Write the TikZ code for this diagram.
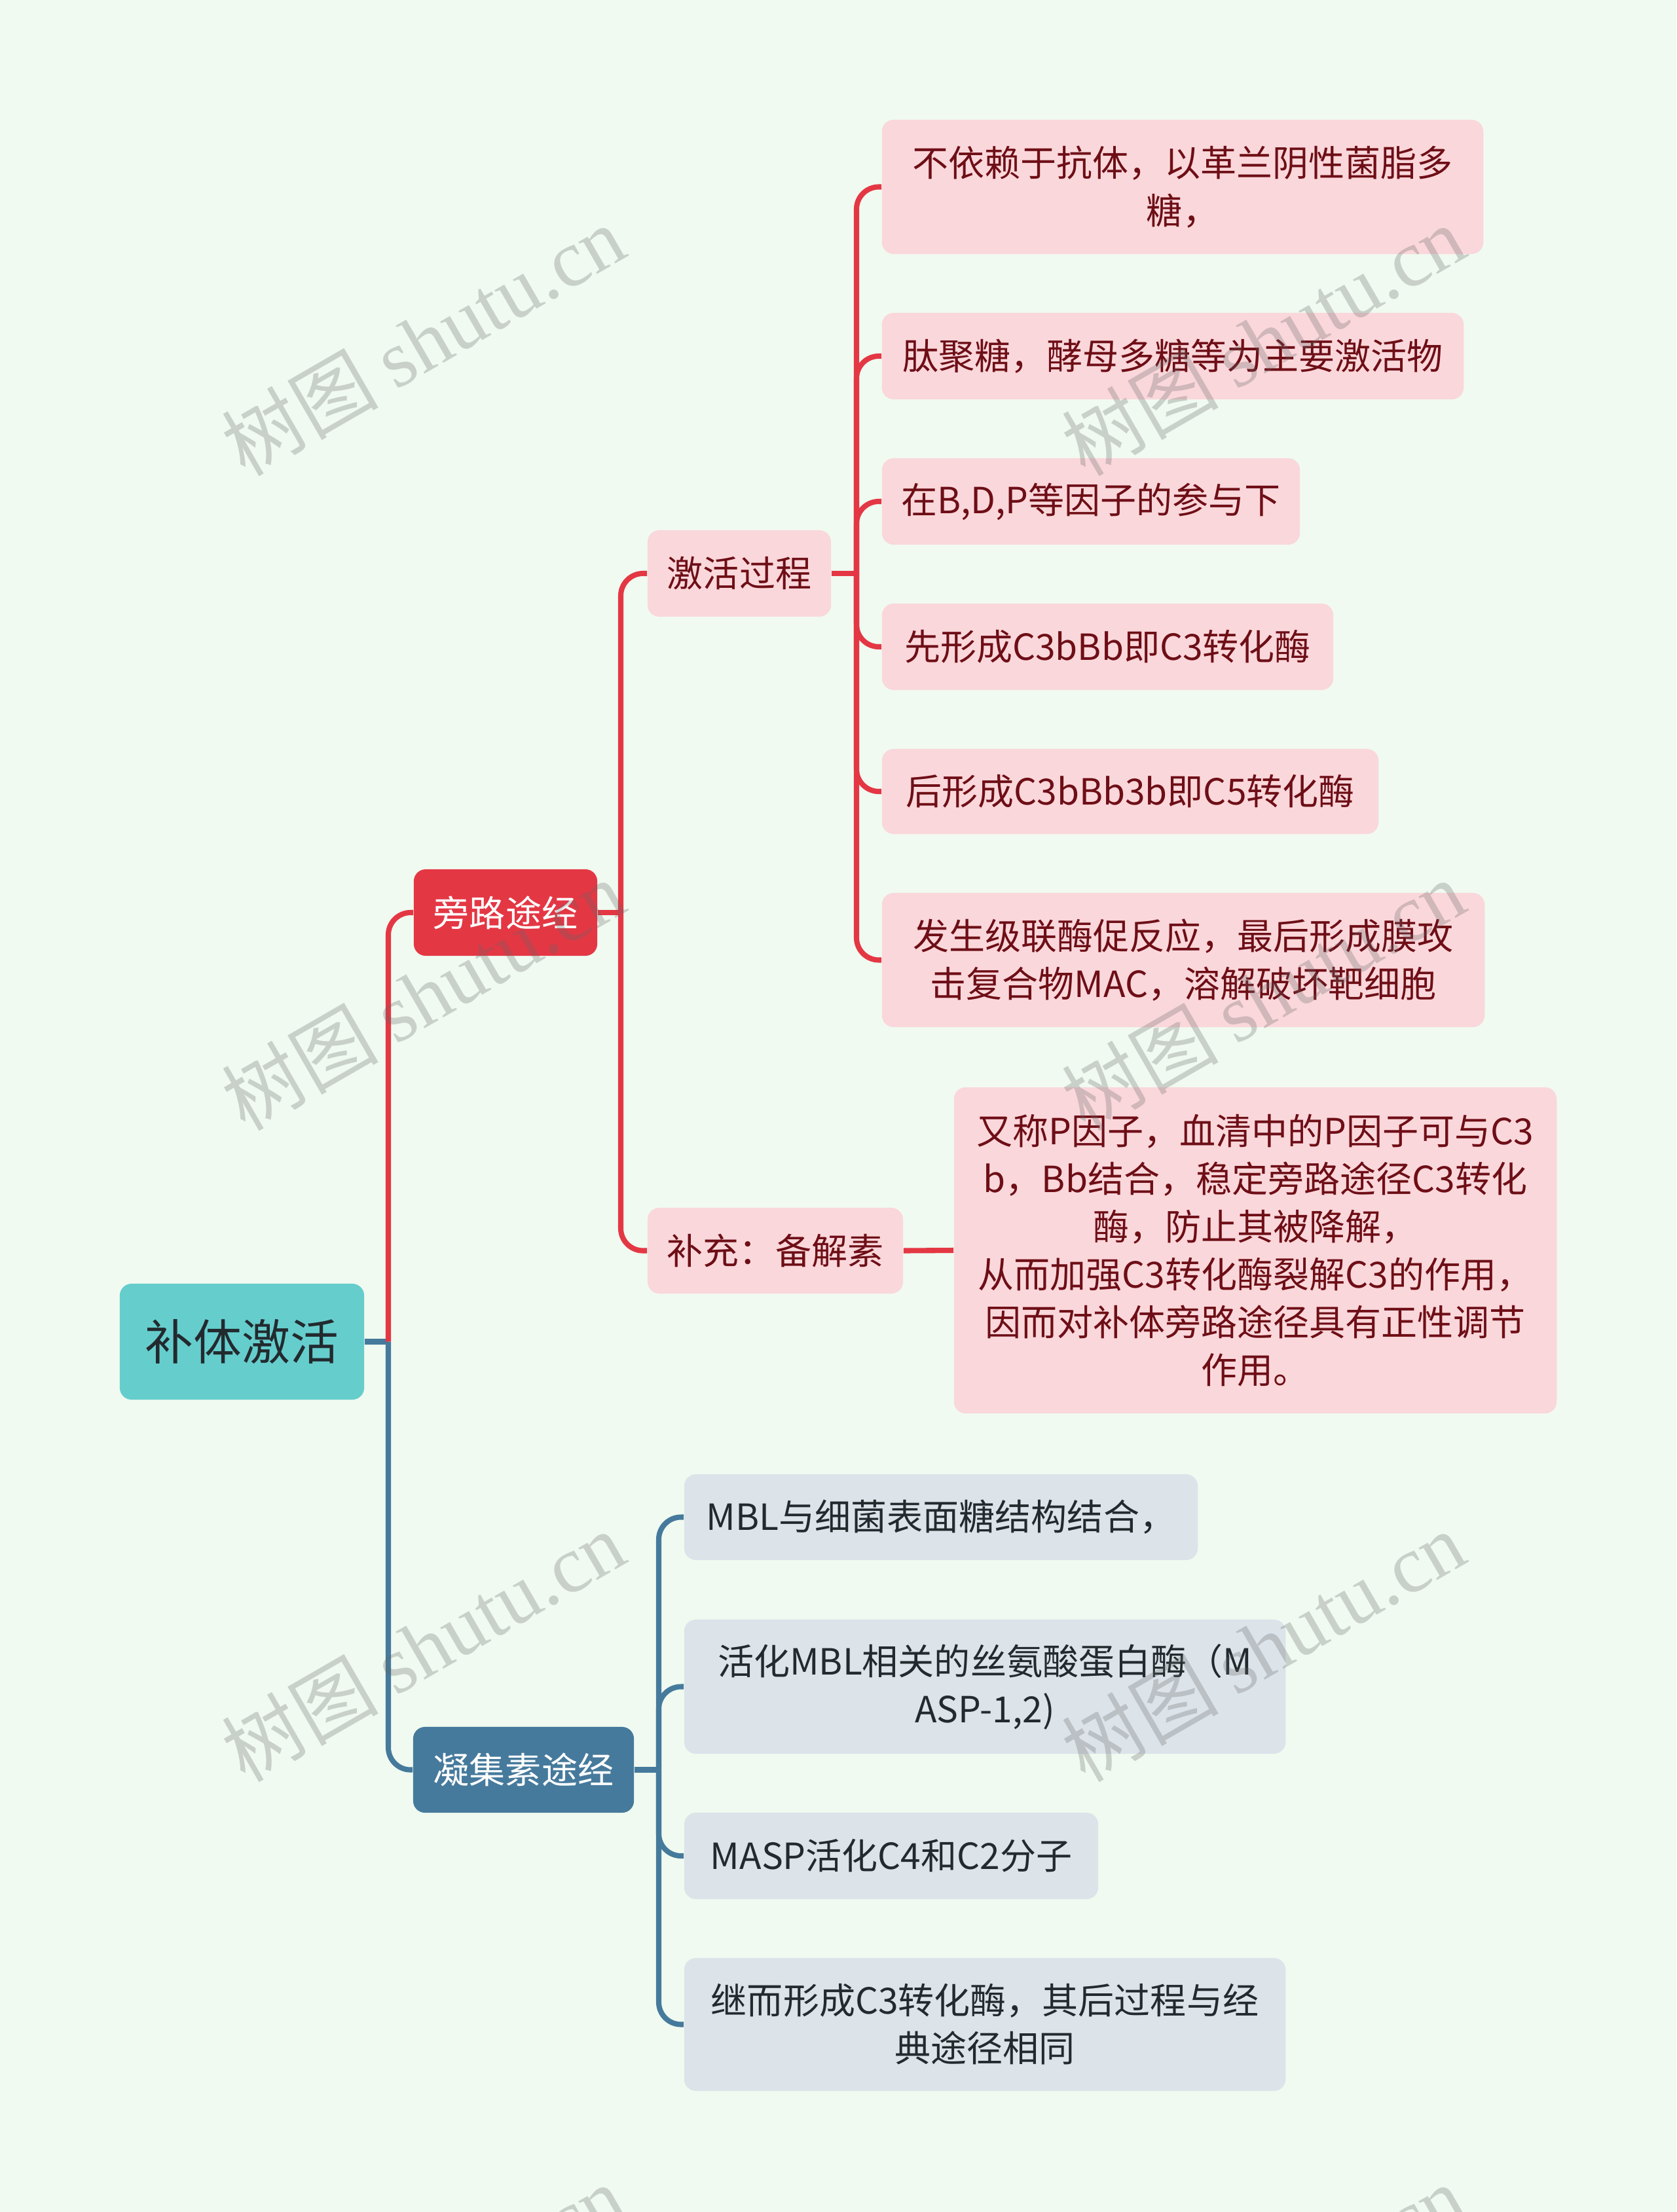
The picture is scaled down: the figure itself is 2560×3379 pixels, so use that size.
\documentclass[tikz,border=0pt]{standalone}
\usepackage{fontspec}
\newfontfamily\cjk{Noto Sans CJK SC}
\newfontfamily\wmserif{Liberation Serif}
\usetikzlibrary{backgrounds}
\definecolor{bgc}{HTML}{F0FAF0}
\definecolor{rootc}{HTML}{66CDCD}
\definecolor{redc}{HTML}{E43744}
\definecolor{pinkc}{HTML}{FAD7DB}
\definecolor{pinktxt}{HTML}{6E0E16}
\definecolor{bluec}{HTML}{467A9C}
\definecolor{lbluec}{HTML}{DCE4EA}
\definecolor{darktxt}{HTML}{222A2E}
\pgfdeclarelayer{back}
\pgfdeclarelayer{edges}
\pgfsetlayers{back,edges,main}
\begin{document}
\begin{tikzpicture}[x=0.01cm,y=-0.01cm,
  base/.style={rectangle, rounded corners=0.18cm, inner sep=0pt, align=center,
    font=\cjk\fontsize{15.65}{20.8}\selectfont},
  rootbox/.style={base, fill=rootc, text=darktxt, font=\cjk\fontsize{21}{26}\selectfont},
  redbox/.style={base, fill=redc, text=white},
  bluebox/.style={base, fill=bluec, text=white},
  pinkbox/.style={base, fill=pinkc, text=pinktxt},
  greybox/.style={base, fill=lbluec, text=darktxt},
  conn/.style={line width=2.3pt, rounded corners=0.34cm},
  wm/.style={rotate=30, text=black!60, opacity=0.28, inner sep=0pt}
]
\useasboundingbox (0,0) rectangle (2560,3379);
\begin{pgfonlayer}{back}
\fill[bgc] (0,0) rectangle (2560,3379);
\end{pgfonlayer}

% main nodes
\node[rootbox, minimum width=3.73cm, minimum height=1.77cm] (root) at (369.5,2049.5) {补体激活};
\node[redbox, minimum width=2.80cm, minimum height=1.32cm] (pang) at (772,1394) {旁路途经};
\node[bluebox, minimum width=3.37cm, minimum height=1.31cm] (ning) at (799.5,2703.5) {凝集素途经};
\node[pinkbox, minimum width=2.80cm, minimum height=1.32cm] (jihuo) at (1129,876) {激活过程};
\node[pinkbox, minimum width=3.90cm, minimum height=1.31cm] (buchong) at (1184,1910.5) {补充：备解素};

% leaves of 激活过程
\node[pinkbox, minimum width=9.18cm, minimum height=2.05cm] (l1) at (1806,285.5) {不依赖于抗体，以革兰阴性菌脂多\\糖，};
\node[pinkbox, minimum width=8.88cm, minimum height=1.32cm] (l2) at (1791,544) {肽聚糖，酵母多糖等为主要激活物};
\node[pinkbox, minimum width=6.38cm, minimum height=1.32cm] (l3) at (1666,766) {在B,D,P等因子的参与下};
\node[pinkbox, minimum width=6.89cm, minimum height=1.32cm] (l4) at (1691.5,988) {先形成C3bBb即C3转化酶};
\node[pinkbox, minimum width=7.58cm, minimum height=1.30cm] (l5) at (1726,1209) {后形成C3bBb3b即C5转化酶};
\node[pinkbox, minimum width=9.20cm, minimum height=2.05cm] (l6) at (1807,1466.5) {发生级联酶促反应，最后形成膜攻\\击复合物MAC，溶解破坏靶细胞};
\node[pinkbox, minimum width=9.20cm, minimum height=4.98cm] (l7) at (1917,1910) {又称P因子，血清中的P因子可与C3\\b，Bb结合，稳定旁路途径C3转化\\酶，防止其被降解，\\从而加强C3转化酶裂解C3的作用，\\因而对补体旁路途径具有正性调节\\作用。};

% leaves of 凝集素途经
\node[greybox, minimum width=7.84cm, minimum height=1.31cm] (la) at (1437,2317.5) {MBL与细菌表面糖结构结合，};
\node[greybox, minimum width=9.18cm, minimum height=2.05cm] (lb) at (1504,2576.5) {活化MBL相关的丝氨酸蛋白酶（M\\ASP-1,2)};
\node[greybox, minimum width=6.32cm, minimum height=1.32cm] (lc) at (1361,2835) {MASP活化C4和C2分子};
\node[greybox, minimum width=9.18cm, minimum height=2.03cm] (ld) at (1504,3092.5) {继而形成C3转化酶，其后过程与经\\典途径相同};

% junction coordinates
\coordinate (t0) at (593,2049.5);
\coordinate (t1) at (948,1394);
\coordinate (t2) at (1308,876);
\coordinate (t3) at (1006,2703.5);

\begin{pgfonlayer}{edges}
\draw[conn, bluec] (root.east) -- (t0);
\draw[conn, redc] (t0) -- (t0 |- pang.west) -- (pang.west);
\draw[conn, bluec] (t0) -- (t0 |- ning.west) -- (ning.west);

\draw[conn, redc] (pang.east) -- (t1);
\draw[conn, redc] (t1) -- (t1 |- jihuo.west) -- (jihuo.west);
\draw[conn, redc] (t1) -- (t1 |- buchong.west) -- (buchong.west);

\draw[conn, redc] (jihuo.east) -- (t2);
\foreach \n in {l1,l2,l3,l4,l5,l6}
  \draw[conn, redc] (t2) -- (t2 |- \n.west) -- (\n.west);

\draw[conn, redc] (buchong.east) -- (l7.west);

\draw[conn, bluec] (ning.east) -- (t3);
\foreach \n in {la,lb,lc,ld}
  \draw[conn, bluec] (t3) -- (t3 |- \n.west) -- (\n.west);
\end{pgfonlayer}

% watermarks
\foreach \i/\px/\py in {1/646/520, 2/1929/520, 3/646/1520, 4/1929/1520, 5/646/2515, 6/1929/2515, 7/646/3513, 8/1929/3513}
  \node[wm] (wm\i) at (\px,\py) {\cjk\fontsize{34}{34}\selectfont 树图 \wmserif\fontsize{35}{35}\selectfont shutu.cn};
\end{tikzpicture}
\end{document}
